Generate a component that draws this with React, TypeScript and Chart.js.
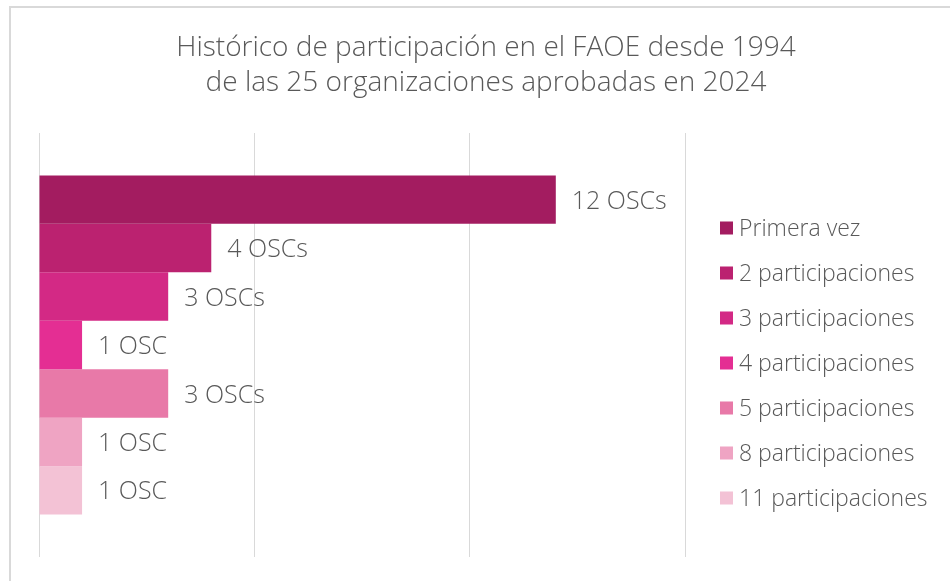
import React, { useEffect, useRef } from "react";
import { Chart, registerables } from "chart.js";

Chart.register(...registerables);

const categories = ["Organizaciones"];
const seriesLabels = [
  "Primera vez",
  "2 participaciones",
  "3 participaciones",
  "4 participaciones",
  "5 participaciones",
  "8 participaciones",
  "11 participaciones",
];
const seriesValues = [12, 4, 3, 1, 3, 1, 1];
const valueLabels = ["12 OSCs", "4 OSCs", "3 OSCs", "1 OSC", "3 OSCs", "1 OSC", "1 OSC"];
const seriesColors = ["#A31C60", "#BB2270", "#D32985", "#E42E93", "#E879A8", "#EFA4C3", "#F3C2D5"];
const xTickValues = [0, 5, 10, 15];
const titleLines = [
  "Histórico de participación en el FAOE desde 1994",
  "de las 25 organizaciones aprobadas en 2024",
];

const FONT = "'Open Sans', 'Liberation Sans', sans-serif";
const TEXT_COLOR = "#595959";

const titlePlugin = {
  id: "customTitle",
  afterDraw(chart: any) {
    const ctx = chart.ctx;
    ctx.save();
    ctx.font = `300 28px ${FONT}`;
    ctx.fillStyle = TEXT_COLOR;
    ctx.textAlign = "center";
    ctx.textBaseline = "alphabetic";
    const cx = 486;
    titleLines.forEach((line, i) => {
      ctx.fillText(line, cx, 56 + i * 35);
    });
    ctx.restore();
  },
};

const valueLabelPlugin = {
  id: "valueLabels",
  afterDatasetsDraw(chart: any) {
    const ctx = chart.ctx;
    ctx.save();
    ctx.font = `300 25px ${FONT}`;
    ctx.fillStyle = TEXT_COLOR;
    ctx.textAlign = "left";
    ctx.textBaseline = "middle";
    chart.data.datasets.forEach((ds: any, i: number) => {
      const meta = chart.getDatasetMeta(i);
      const el = meta.data[0];
      if (!el) return;
      ctx.fillText(ds.valueLabel, el.x + 16, el.y + 2);
    });
    ctx.restore();
  },
};

const customLegendPlugin = {
  id: "customLegend",
  afterDraw(chart: any) {
    const ctx = chart.ctx;
    ctx.save();
    ctx.font = `300 23px ${FONT}`;
    ctx.textAlign = "left";
    ctx.textBaseline = "middle";
    const x0 = 720;
    const y0 = 228;
    const step = 45;
    const box = 13;
    chart.data.datasets.forEach((ds: any, i: number) => {
      const y = y0 + i * step;
      ctx.fillStyle = ds.backgroundColor;
      ctx.fillRect(x0, y - box / 2, box, box);
      ctx.fillStyle = TEXT_COLOR;
      ctx.fillText(ds.label, x0 + box + 6, y + 1);
    });
    ctx.restore();
  },
};

export default function App() {
  const canvasRef = useRef<HTMLCanvasElement | null>(null);

  useEffect(() => {
    if (!canvasRef.current) return;
    const chart = new Chart(canvasRef.current, {
      type: "bar",
      data: {
        labels: categories,
        datasets: seriesLabels.map((label, i) => ({
          label,
          data: [seriesValues[i]],
          backgroundColor: seriesColors[i],
          borderWidth: 0,
          categoryPercentage: 0.8,
          barPercentage: 1,
          valueLabel: valueLabels[i],
        })) as any,
      },
      options: {
        indexAxis: "y",
        animation: false,
        responsive: true,
        maintainAspectRatio: false,
        layout: { padding: { left: 39, right: 287, top: 133, bottom: 24 } },
        scales: {
          x: {
            min: xTickValues[0],
            max: xTickValues[xTickValues.length - 1],
            afterBuildTicks: (scale: any) => {
              scale.ticks = xTickValues.map((v) => ({ value: v }));
            },
            ticks: { display: false },
            grid: { color: "#d9d9d9", lineWidth: 1, drawTicks: false },
            border: { display: false },
          },
          y: { display: false },
        },
        plugins: {
          legend: { display: false },
          tooltip: { enabled: false },
          title: { display: false },
        },
      },
      plugins: [titlePlugin, valueLabelPlugin, customLegendPlugin],
    });
    return () => chart.destroy();
  }, []);

  return (
    <div
      style={{
        position: "absolute",
        left: 0,
        top: 0,
        width: 950,
        height: 581,
        overflow: "hidden",
        background: "#fff",
      }}
    >
      <div
        style={{
          position: "absolute",
          left: 9,
          top: 6,
          width: 1000,
          height: 700,
          border: "2px solid #d9d9d9",
          boxSizing: "border-box",
        }}
      />
      <div style={{ position: "absolute", left: 0, top: 0, width: 972, height: 581 }}>
        <canvas ref={canvasRef} />
      </div>
    </div>
  );
}
